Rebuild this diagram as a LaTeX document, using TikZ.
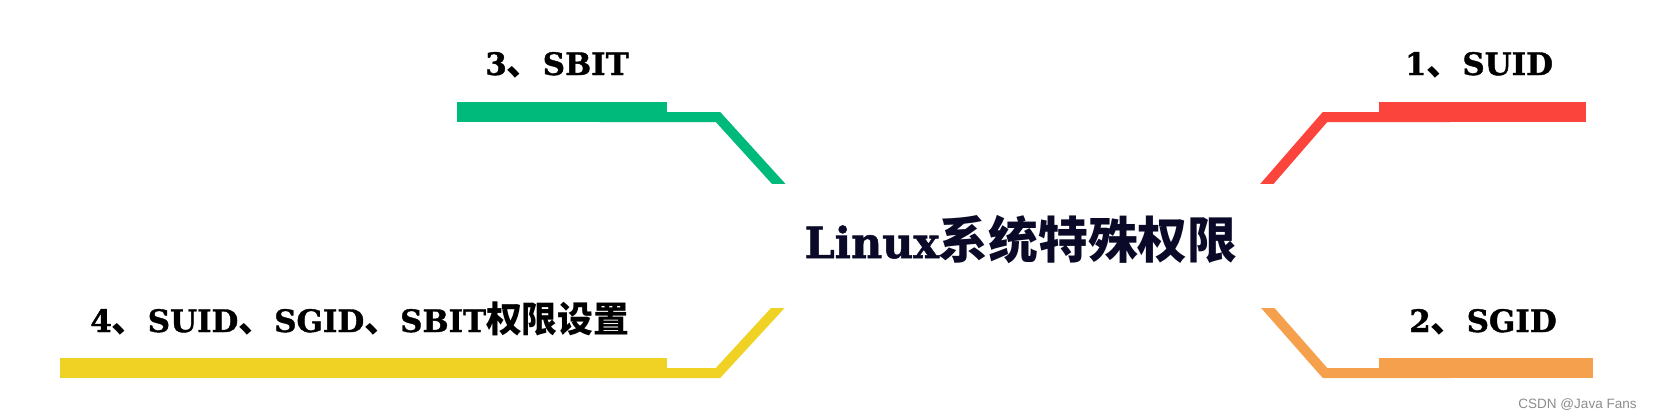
\documentclass[tikz,border=0pt]{standalone}
\usepackage{fontspec}
\usepackage{xcolor}
\setmainfont{DejaVu Serif}[BoldFeatures={FakeBold=1.2}]
\newfontfamily\cjk{Noto Sans CJK SC}[Scale=1.16]
\newfontfamily\markfont{Liberation Sans}
\newcommand\zh[1]{{\cjk #1}}
\definecolor{bgreen}{RGB}{0,186,123}
\definecolor{bred}{RGB}{250,68,60}
\definecolor{borange}{RGB}{245,160,77}
\definecolor{byellow}{RGB}{240,210,36}
\definecolor{rootink}{RGB}{10,10,40}
\usetikzlibrary{positioning}

\begin{document}
\begin{tikzpicture}[
    x=0.2mm, y=-0.2mm,
    root/.style={font=\bfseries\fontsize{24.4}{27}\selectfont, text=rootink, anchor=base, inner sep=0pt},
    topic/.style={font=\bfseries\fontsize{17.6}{20}\selectfont, text=black, anchor=base, inner sep=0pt},
    branch/.style={line width=2mm, line join=miter}
]
    \useasboundingbox (0,0) rectangle (1654,419);

    \node[root] (linux) at (1021,258) {Linux\zh{系统特殊权限}};

    \node[topic] (suid) at (1479,75) {1\zh{、}SUID};
    \node[topic] (sgid) at (1483,332) {2\zh{、}SGID};
    \node[topic] (sbit) at (557,75) {3\zh{、}SBIT};
    \node[topic] (setup) at (360,332) {4\zh{、}SUID\zh{、}SGID\zh{、}SBIT\zh{权限设置}};

    % free ends next to the root
    \coordinate (suidend) at (1259,193);
    \coordinate (sgidend) at (1259,298);
    \coordinate (sbitend) at (787,193);
    \coordinate (setupend) at (787,298);

    % thin branches, cut flat near the root
    \begin{scope}
        \clip (0,0) rectangle (1654,183);
        \draw[branch, bred] (1450,117) -- (1325,117) -- (suidend);
        \draw[branch, bgreen] (600,117) -- (718,117) -- (sbitend);
    \end{scope}
    \begin{scope}
        \clip (0,308) rectangle (1654,419);
        \draw[branch, borange] (1450,373) -- (1325,373) -- (sgidend);
        \draw[branch, byellow] (600,373) -- (718,373) -- (setupend);
    \end{scope}

    % thick bars under the topics
    \fill[bred] (1379,102) rectangle (1586,122);
    \fill[borange] (1379,358) rectangle (1593,378);
    \fill[bgreen] (457,102) rectangle (667,122);
    \fill[byellow] (60,358) rectangle (667,378);

    \node[font=\markfont\fontsize{7.7}{9}\selectfont, text=black!45, anchor=base east, inner sep=0pt] (mark) at (1637,408) {CSDN @Java Fans};
\end{tikzpicture}
\end{document}
